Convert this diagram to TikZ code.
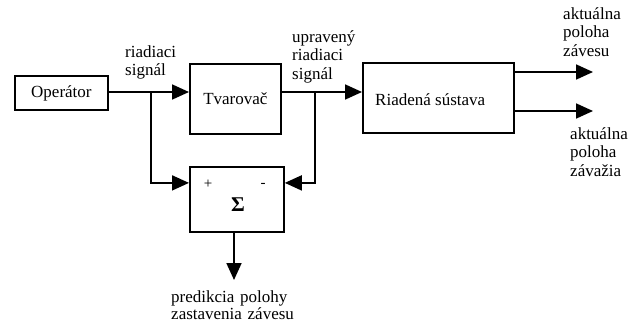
\documentclass[tikz,border=0pt]{standalone}
\usepackage{fontspec}
\setmainfont{Liberation Serif}
\usetikzlibrary{arrows.meta}
\begin{document}
\begin{tikzpicture}[x=1pt,y=-1pt,
  every node/.style={font=\fontsize{17}{18.8}\selectfont},
  blk/.style={draw,line width=1.8pt,inner sep=0pt,anchor=north west},
  lbl/.style={inner sep=0pt,anchor=base west,align=left,text width=#1},
  lbl/.default=80pt,
  conn/.style={line width=1.8pt},
  arr/.style={conn,-{Triangle[length=17pt,width=15pt]}},
  sgn/.style={inner sep=0pt}]
\useasboundingbox (0,0) rectangle (639,324);
% blocks
\node[blk,minimum width=93pt,minimum height=34pt] (op) at (14,75) {Operátor};
\node[blk,minimum width=91pt,minimum height=70pt] (tv) at (189,63) {Tvarovač};
\node[blk,minimum width=94pt,minimum height=65pt] (sum) at (189,166) {};
\node[blk,minimum width=151pt,minimum height=70pt] (rs) at (362,62) {};
\node[inner sep=0pt,anchor=west] (rstxt) at ([xshift=13pt,yshift=-2pt]rs.west) {Riadená sústava};
\node[sgn] (plus) at (208,184) {\fontsize{15}{15}\selectfont +};
\node[sgn] (minus) at (263,185) {\fontsize{15}{15}\selectfont -};
\node[sgn] (sigma) at (238,205) {\fontsize{21}{21}\selectfont\textbf{Σ}};
% branch points and free ends
\coordinate (b1) at (151,92);
\coordinate (b2) at (315,92);
\coordinate (o1) at (593,72);
\coordinate (o2) at (593,111);
\coordinate (o3) at (234,280);
% connectors
\draw[conn] (op.east |- b1) -- (b1);
\draw[arr] (b1) -- (b1 -| tv.west);
\draw[arr] (b1) |- ([yshift=16.5pt]sum.west);
\draw[conn] (b1 -| tv.east) -- (b2);
\draw[arr] (b2) -- (b2 -| rs.west);
\draw[arr] (b2) |- ([yshift=16.5pt]sum.east);
\draw[arr] (rs.east |- o1) -- (o1);
\draw[arr] (rs.east |- o2) -- (o2);
\draw[arr] (sum.south -| o3) -- (o3);
% labels
\node[lbl=70pt] (l1) at (125,57) {riadiaci\\signál};
\node[lbl=80pt] (l2) at (292,42) {upravený\\riadiaci\\signál};
\node[lbl=80pt] (l3) at (563,19) {aktuálna\\poloha\\závesu};
\node[lbl=80pt] (l4) at (570,139) {aktuálna\\poloha\\závažia};
\node[lbl=150pt,font=\fontsize{17}{17.5}\selectfont] (l5) at (171,302) {predikcia polohy\\zastavenia závesu};
\end{tikzpicture}
\end{document}
